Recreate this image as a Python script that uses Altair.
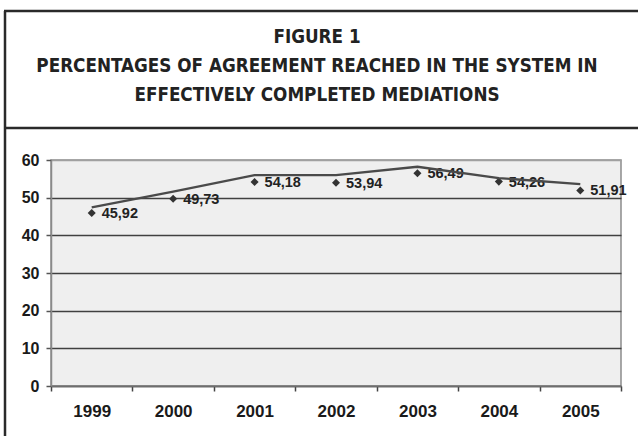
import altair as alt
import pandas as pd

# ---- data ----
years = ["1999", "2000", "2001", "2002", "2003", "2004", "2005"]
values = [45.92, 49.73, 54.18, 53.94, 56.49, 54.26, 51.91]
value_labels = ["45,92", "49,73", "54,18", "53,94", "56,49", "54,26", "51,91"]
line_values = [47.4, 51.6, 56.0, 56.0, 58.2, 55.2, 53.6]
y_ticks = [0, 10, 20, 30, 40, 50, 60]
title_lines = [
    "FIGURE 1",
    "PERCENTAGES OF AGREEMENT REACHED IN THE SYSTEM IN",
    "EFFECTIVELY COMPLETED MEDIATIONS",
]

df = pd.DataFrame({"year": years, "value": values, "label": value_labels, "trend": line_values})

W, H = 570, 226
PAD_L, PAD_T, PAD_R, PAD_B = 51, 160, 17, 50
AX_FONT = "Liberation Sans, Arial, sans-serif"
TITLE_FONT = "Liberation Sans Narrow, DejaVu Sans Condensed, sans-serif"

x_enc = alt.X(
    "year:N",
    bandPosition=0.5,
    scale=alt.Scale(type="band", paddingInner=0, paddingOuter=0),
    axis=alt.Axis(
        title=None, labelAngle=0, tickBand="extent", grid=False,
        domainColor="#6e6e6e", domainWidth=1.5,
        tickColor="#444", tickWidth=1.5, tickSize=5,
        labelFont=AX_FONT, labelFontWeight="bold", labelFontSize=17,
        labelColor="#1a1a1a", labelPadding=12,
    ),
)

y_axis = alt.Axis(
    title=None, values=y_ticks, grid=True,
    gridColor={"condition": {"test": "datum.value == 60", "value": "#a0a0a0"}, "value": "#404040"},
    gridWidth=1.5,
    domainColor="#8a8a8a", domainWidth=1.5,
    tickColor="#555", tickWidth=1.5, tickSize=5,
    labelFont=AX_FONT, labelFontWeight="bold", labelFontSize=16,
    labelColor="#1a1a1a", labelPadding=7,
)
y_scale = alt.Scale(domain=[0, 60], nice=False)

base = alt.Chart(df)

labels = base.mark_text(
    align="left", baseline="middle", dx=10, dy=1,
    font=AX_FONT, fontWeight="bold", fontSize=14.5, color="#222",
).encode(x=x_enc, y=alt.Y("value:Q", scale=y_scale, axis=y_axis), text="label:N")

points = base.mark_point(shape="diamond", filled=True, size=65, color="#333", opacity=1).encode(
    x=x_enc, y=alt.Y("value:Q", scale=y_scale, axis=y_axis)
)

line = base.mark_line(color="#4a4a4a", strokeWidth=2.3).encode(
    x=x_enc, y=alt.Y("trend:Q", scale=y_scale, axis=y_axis)
)

one = pd.DataFrame({"a": [0]})
frame_color = "#2a2a2a"
left_border = alt.Chart(one).mark_rule(color=frame_color, strokeWidth=2.5).encode(
    x=alt.value(5 - PAD_L), y=alt.value(11 - PAD_T), y2=alt.value(436 - PAD_T + 5)
)
top_border = alt.Chart(one).mark_rule(color=frame_color, strokeWidth=2.5).encode(
    x=alt.value(4 - PAD_L), x2=alt.value(640 - PAD_L), y=alt.value(11 - PAD_T)
)
divider = alt.Chart(one).mark_rule(color=frame_color, strokeWidth=2.5).encode(
    x=alt.value(4 - PAD_L), x2=alt.value(640 - PAD_L), y=alt.value(128 - PAD_T)
)

title_layers = []
for txt, cy in zip(title_lines, [37, 66, 95]):
    title_layers.append(
        alt.Chart(pd.DataFrame({"t": [txt]})).mark_text(
            align="center", baseline="middle", font=TITLE_FONT, fontWeight="bold",
            fontSize=18.7, color="#222",
        ).encode(text="t:N", x=alt.value(317 - PAD_L), y=alt.value(cy - PAD_T))
    )

chart = alt.layer(
    labels, points, line, left_border, top_border, divider, *title_layers
).properties(
    width=W, height=H,
    autosize=alt.AutoSizeParams(type="none"),
    padding={"left": PAD_L, "top": PAD_T, "right": PAD_R, "bottom": PAD_B},
    background="white",
).configure_view(fill="#efefef", stroke="#8c8c8c", strokeWidth=1.5)

chart.save("out.html", embed_options={"renderer": "svg", "actions": False})
